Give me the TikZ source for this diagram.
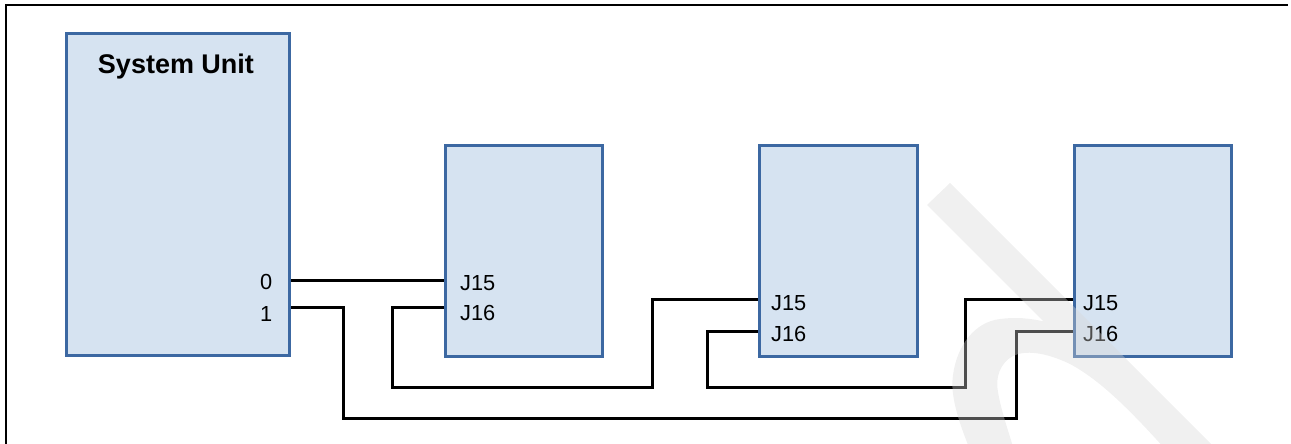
\documentclass[tikz,border=0pt]{standalone}
\usepackage{fontspec}
\setmainfont{Liberation Sans}
\definecolor{boxfill}{RGB}{214,227,241}
\definecolor{boxline}{RGB}{60,104,162}
\definecolor{wmark}{RGB}{214,214,214}
\begin{document}
\begin{tikzpicture}[x=1pt,y=-1pt,
  unitbox/.style={draw=boxline,fill=boxfill,line width=3pt,inner sep=0pt,anchor=north west},
  wire/.style={draw=black,line width=3pt,line join=miter},
  lbl/.style={inner sep=0pt,font=\fontsize{21.8}{22}\selectfont},
  title/.style={inner sep=0pt,font=\fontsize{27}{27}\selectfont\bfseries}]
\useasboundingbox (0,0) rectangle (1291,444);
% frame
\draw[line width=1.8pt] (6,444) -- (6,5) -- (1288,5);
% boxes
\node[unitbox,minimum width=223pt,minimum height=322pt] (su) at (65,32) {};
\node[unitbox,minimum width=157pt,minimum height=211pt] (a) at (444,144) {};
\node[unitbox,minimum width=158pt,minimum height=211pt] (b) at (758,144) {};
\node[unitbox,minimum width=157pt,minimum height=211pt] (c) at (1073,144) {};
% texts
\node[title,anchor=base] (sut) at (176,74) {System Unit};
\node[lbl,anchor=base east] (p0) at (272.5,289) {0};
\node[lbl,anchor=base east] (p1) at (272.5,321) {1};
\node[lbl,anchor=base west] (a15t) at (460,290.5) {J15};
\node[lbl,anchor=base west] (a16t) at (460,320) {J16};
\node[lbl,anchor=base west] (b15t) at (771,310) {J15};
\node[lbl,anchor=base west] (b16t) at (771,341.5) {J16};
\node[lbl,anchor=base west] (c15t) at (1083,310) {J15};
\node[lbl,anchor=base west] (c16t) at (1083,341.5) {J16};
% connector points
\coordinate (su0) at (su.east |- 0,280);
\coordinate (su1) at (su.east |- 0,307);
\coordinate (a15) at (a.west |- 0,280);
\coordinate (a16) at (a.west |- 0,307);
\coordinate (b15) at (b.west |- 0,299);
\coordinate (b16) at (b.west |- 0,331.5);
\coordinate (c15) at (c.west |- 0,299);
\coordinate (c16) at (c.west |- 0,331.5);
% connectors
\draw[wire] (su0) -- (a15);
\draw[wire] (su1) -- (343,307) -- (343,418) -- (1016,418) -- (1016,331.5) -- (c16);
\draw[wire] (a16) -- (392,307) -- (392,387) -- (652,387) -- (652,299) -- (b15);
\draw[wire] (b16) -- (707,331.5) -- (707,387) -- (965,387) -- (965,299) -- (c15);
% watermark
\fill[wmark,fill opacity=0.37]
  (927,205) -- (950,183) -- (1217,450) -- (1172,450) -- cycle
  (970,450) .. controls (958,420) and (950,395) .. (953,375)
  .. controls (957,345) and (975,322) .. (1000,319)
  .. controls (1015,317) and (1030,318) .. (1046,322)
  -- (1190,450) -- (1166,450)
  .. controls (1130,410) and (1100,380) .. (1070,364)
  .. controls (1045,352) and (1025,350) .. (1013,356)
  .. controls (1000,363) and (995,378) .. (998,392)
  .. controls (1001,410) and (1008,430) .. (1014,450) -- cycle;
\end{tikzpicture}
\end{document}
